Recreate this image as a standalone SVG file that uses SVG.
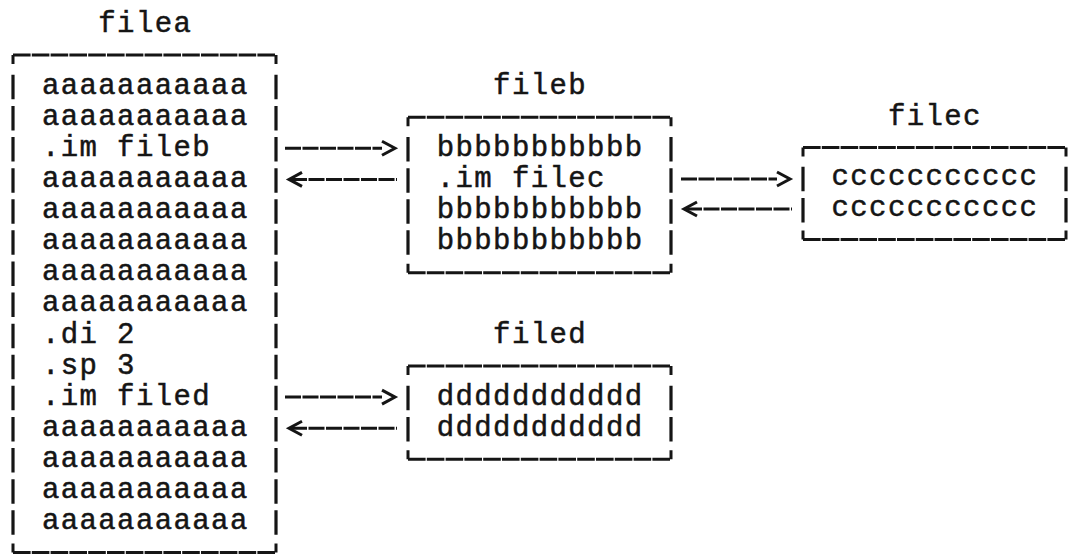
<svg xmlns="http://www.w3.org/2000/svg" xmlns:xlink="http://www.w3.org/1999/xlink" width="1075" height="555" viewBox="0 0 1075 555">
  <style>
    .t { font-family: "Liberation Mono", "DejaVu Sans Mono", monospace; font-size: 29px; letter-spacing: 1.4px; fill: #151515; stroke: #151515; stroke-width: 0.5; }
    .h { stroke: #151515; stroke-width: 3; fill: none; stroke-dasharray: 17.6 1.2; }
    .v { stroke: #151515; stroke-width: 3.2; fill: none; stroke-dasharray: 24.5 6.6; }
    .c { stroke: #151515; stroke-width: 3; fill: none; }
    .a { stroke: #151515; stroke-width: 3; fill: none; stroke-dasharray: 16 1.5; }
    .hd { stroke: #151515; stroke-width: 3; fill: none; stroke-linejoin: miter; }
  </style>
  <defs>
    <!-- typewriter-style chevrons: ">" and "<" -->
    <path id="head-r" class="hd" d="M-13,-7 L0,0 L-13,7"/>
    <path id="head-l" class="hd" d="M13,-7 L0,0 L13,7"/>
  </defs>
  <rect width="1075" height="555" fill="#ffffff"/>

  <!-- main file: column pitch 18.8, row pitch 31.1 -->
  <g id="filea">
    <text class="t" x="98.3" y="31.5">filea</text>
    <line class="h" x1="13" y1="55" x2="276" y2="55"/>
    <path class="c" d="M13,55 V64 M276,55 V64"/>
    <line class="v" x1="13" y1="74.85" x2="13" y2="534.75"/>
    <line class="v" x1="276" y1="74.85" x2="276" y2="534.75"/>
    <line class="h" x1="13" y1="552.6" x2="276" y2="552.6"/>
    <path class="c" d="M13,552.6 V543.6 M276,552.6 V543.6"/>
    <text class="t" x="41.9" y="93.7">aaaaaaaaaaa</text>
    <text class="t" x="41.9" y="124.8">aaaaaaaaaaa</text>
    <text class="t" x="41.9" y="155.9">.im fileb</text>
    <text class="t" x="41.9" y="187">aaaaaaaaaaa</text>
    <text class="t" x="41.9" y="218.1">aaaaaaaaaaa</text>
    <text class="t" x="41.9" y="249.2">aaaaaaaaaaa</text>
    <text class="t" x="41.9" y="280.3">aaaaaaaaaaa</text>
    <text class="t" x="41.9" y="311.4">aaaaaaaaaaa</text>
    <text class="t" x="41.9" y="342.5">.di 2</text>
    <text class="t" x="41.9" y="373.6">.sp 3</text>
    <text class="t" x="41.9" y="404.7">.im filed</text>
    <text class="t" x="41.9" y="435.8">aaaaaaaaaaa</text>
    <text class="t" x="41.9" y="466.9">aaaaaaaaaaa</text>
    <text class="t" x="41.9" y="498">aaaaaaaaaaa</text>
    <text class="t" x="41.9" y="529.1">aaaaaaaaaaa</text>
  </g>

  <g id="fileb">
    <text class="t" x="493.1" y="93.7">fileb</text>
    <line class="h" x1="408" y1="117.2" x2="671" y2="117.2"/>
    <path class="c" d="M408,117.2 V126.2 M671,117.2 V126.2"/>
    <line class="v" x1="408" y1="137.05" x2="408" y2="254.85"/>
    <line class="v" x1="671" y1="137.05" x2="671" y2="254.85"/>
    <line class="h" x1="408" y1="272.7" x2="671" y2="272.7"/>
    <path class="c" d="M408,272.7 V263.7 M671,272.7 V263.7"/>
    <text class="t" x="436.7" y="155.9">bbbbbbbbbbb</text>
    <text class="t" x="436.7" y="187">.im filec</text>
    <text class="t" x="436.7" y="218.1">bbbbbbbbbbb</text>
    <text class="t" x="436.7" y="249.2">bbbbbbbbbbb</text>
  </g>

  <g id="filec">
    <text class="t" x="887.9" y="124.8">filec</text>
    <line class="h" x1="803" y1="147.5" x2="1066" y2="147.5"/>
    <path class="c" d="M803,147.5 V156.5 M1066,147.5 V156.5"/>
    <line class="v" x1="803" y1="166.8" x2="803" y2="222.7"/>
    <line class="v" x1="1066" y1="166.8" x2="1066" y2="222.7"/>
    <line class="h" x1="803" y1="239.5" x2="1066" y2="239.5"/>
    <path class="c" d="M803,239.5 V230.5 M1066,239.5 V230.5"/>
    <text class="t" x="831.5" y="185">ccccccccccc</text>
    <text class="t" x="831.5" y="215.5">ccccccccccc</text>
  </g>

  <g id="filed">
    <text class="t" x="493.1" y="342.5">filed</text>
    <line class="h" x1="408" y1="366" x2="671" y2="366"/>
    <path class="c" d="M408,366 V375 M671,366 V375"/>
    <line class="v" x1="408" y1="385.85" x2="408" y2="441.45"/>
    <line class="v" x1="671" y1="385.85" x2="671" y2="441.45"/>
    <line class="h" x1="408" y1="459.3" x2="671" y2="459.3"/>
    <path class="c" d="M408,459.3 V450.3 M671,459.3 V450.3"/>
    <text class="t" x="436.7" y="404.7">ddddddddddd</text>
    <text class="t" x="436.7" y="435.8">ddddddddddd</text>
  </g>

  <g id="connectors">
    <!-- filea <-> fileb -->
    <line class="a" x1="285" y1="148.3" x2="382" y2="148.3"/>
    <use xlink:href="#head-r" x="395" y="148.3"/>
    <use xlink:href="#head-l" x="289" y="179.4"/>
    <line class="a" x1="291" y1="179.4" x2="397" y2="179.4"/>
    <!-- fileb <-> filec -->
    <line class="a" x1="681" y1="179" x2="777" y2="179"/>
    <use xlink:href="#head-r" x="790" y="179"/>
    <use xlink:href="#head-l" x="684" y="209"/>
    <line class="a" x1="686" y1="209" x2="792" y2="209"/>
    <!-- filea <-> filed -->
    <line class="a" x1="285" y1="397.1" x2="382" y2="397.1"/>
    <use xlink:href="#head-r" x="395" y="397.1"/>
    <use xlink:href="#head-l" x="289" y="428.2"/>
    <line class="a" x1="291" y1="428.2" x2="397" y2="428.2"/>
  </g>
</svg>
